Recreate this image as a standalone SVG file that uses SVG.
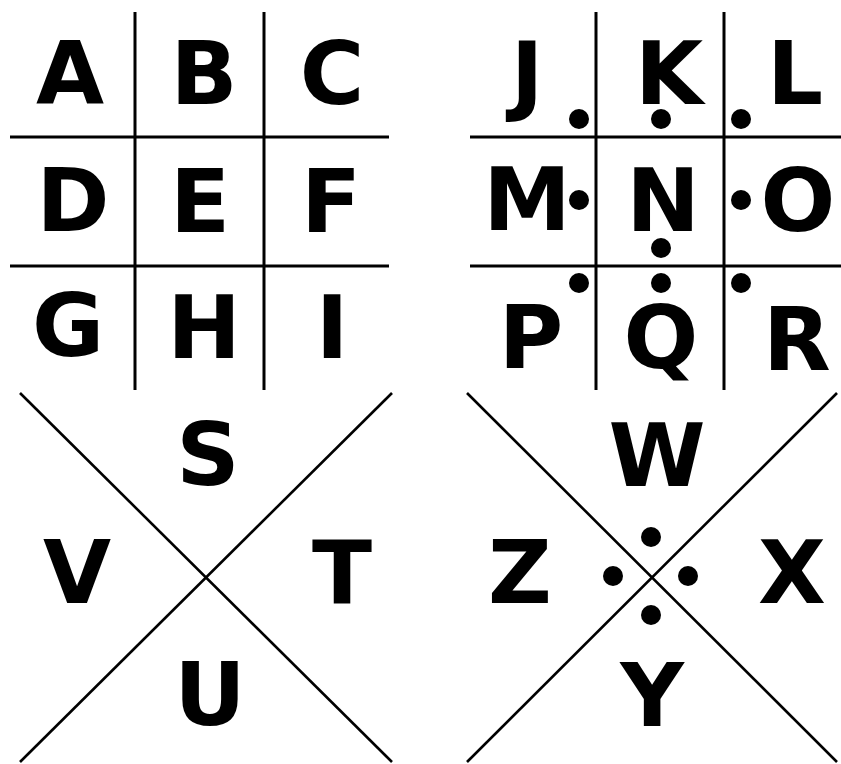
<svg xmlns="http://www.w3.org/2000/svg" width="841" height="764" viewBox="0 0 841 764">
<style>
.l{stroke:#000;stroke-width:3;fill:none;stroke-linecap:butt}
.d{stroke:#000;stroke-width:2.6;fill:none}
.t{font-family:"DejaVu Sans","Liberation Sans",sans-serif;font-weight:bold;font-size:88px;fill:#000;text-anchor:middle}
.dot{fill:#000}
</style>
<rect width="841" height="764" fill="#fff"/>
<g id="connectors">
<line class="l" x1="135" y1="12" x2="135" y2="390"/>
<line class="l" x1="264" y1="12" x2="264" y2="390"/>
<line class="l" x1="10" y1="137" x2="389" y2="137"/>
<line class="l" x1="10" y1="266" x2="389" y2="266"/>
<line class="l" x1="596" y1="12" x2="596" y2="390"/>
<line class="l" x1="724" y1="12" x2="724" y2="390"/>
<line class="l" x1="470" y1="137" x2="841" y2="137"/>
<line class="l" x1="470" y1="266" x2="841" y2="266"/>
<line class="d" x1="20" y1="393" x2="392" y2="762"/>
<line class="d" x1="392" y1="393" x2="20" y2="762"/>
<line class="d" x1="467" y1="393" x2="837" y2="762"/>
<line class="d" x1="837" y1="393" x2="467" y2="762"/>
</g>
<g id="A"><text class="t" x="70" y="104">A</text></g>
<g id="B"><text class="t" x="204" y="104">B</text></g>
<g id="C"><text class="t" x="332" y="104">C</text></g>
<g id="D"><text class="t" x="73" y="231">D</text></g>
<g id="E"><text class="t" x="200" y="232">E</text></g>
<g id="F"><text class="t" x="331" y="232">F</text></g>
<g id="G"><text class="t" x="68" y="356">G</text></g>
<g id="H"><text class="t" x="204" y="358">H</text></g>
<g id="I"><text class="t" x="332" y="358">I</text></g>
<g id="J"><text class="t" x="527" y="104">J</text><circle class="dot" cx="579" cy="119" r="10"/></g>
<g id="K"><text class="t" x="669" y="104">K</text><circle class="dot" cx="661" cy="119" r="10"/></g>
<g id="L"><text class="t" x="795" y="104">L</text><circle class="dot" cx="741" cy="119" r="10"/></g>
<g id="M"><text class="t" x="527" y="230">M</text><circle class="dot" cx="579" cy="200" r="10"/></g>
<g id="N"><text class="t" x="663" y="231">N</text><circle class="dot" cx="661" cy="248" r="10"/></g>
<g id="O"><text class="t" x="798" y="231">O</text><circle class="dot" cx="741" cy="200" r="10"/></g>
<g id="P"><text class="t" x="531" y="368">P</text><circle class="dot" cx="579" cy="283" r="10"/></g>
<g id="Q"><text class="t" x="661" y="368">Q</text><circle class="dot" cx="661" cy="283" r="10"/></g>
<g id="R"><text class="t" x="797" y="370">R</text><circle class="dot" cx="741" cy="283" r="10"/></g>
<g id="S"><text class="t" x="208" y="485">S</text></g>
<g id="T"><text class="t" x="342" y="603">T</text></g>
<g id="U"><text class="t" x="210" y="725">U</text></g>
<g id="V"><text class="t" x="77" y="603">V</text></g>
<g id="W"><text class="t" x="657" y="486">W</text><circle class="dot" cx="651" cy="537" r="10"/></g>
<g id="X"><text class="t" x="792" y="603">X</text><circle class="dot" cx="688" cy="576" r="10"/></g>
<g id="Y"><text class="t" x="652" y="726">Y</text><circle class="dot" cx="651" cy="615" r="10"/></g>
<g id="Z"><text class="t" x="520" y="603">Z</text><circle class="dot" cx="613" cy="576" r="10"/></g>
</svg>
